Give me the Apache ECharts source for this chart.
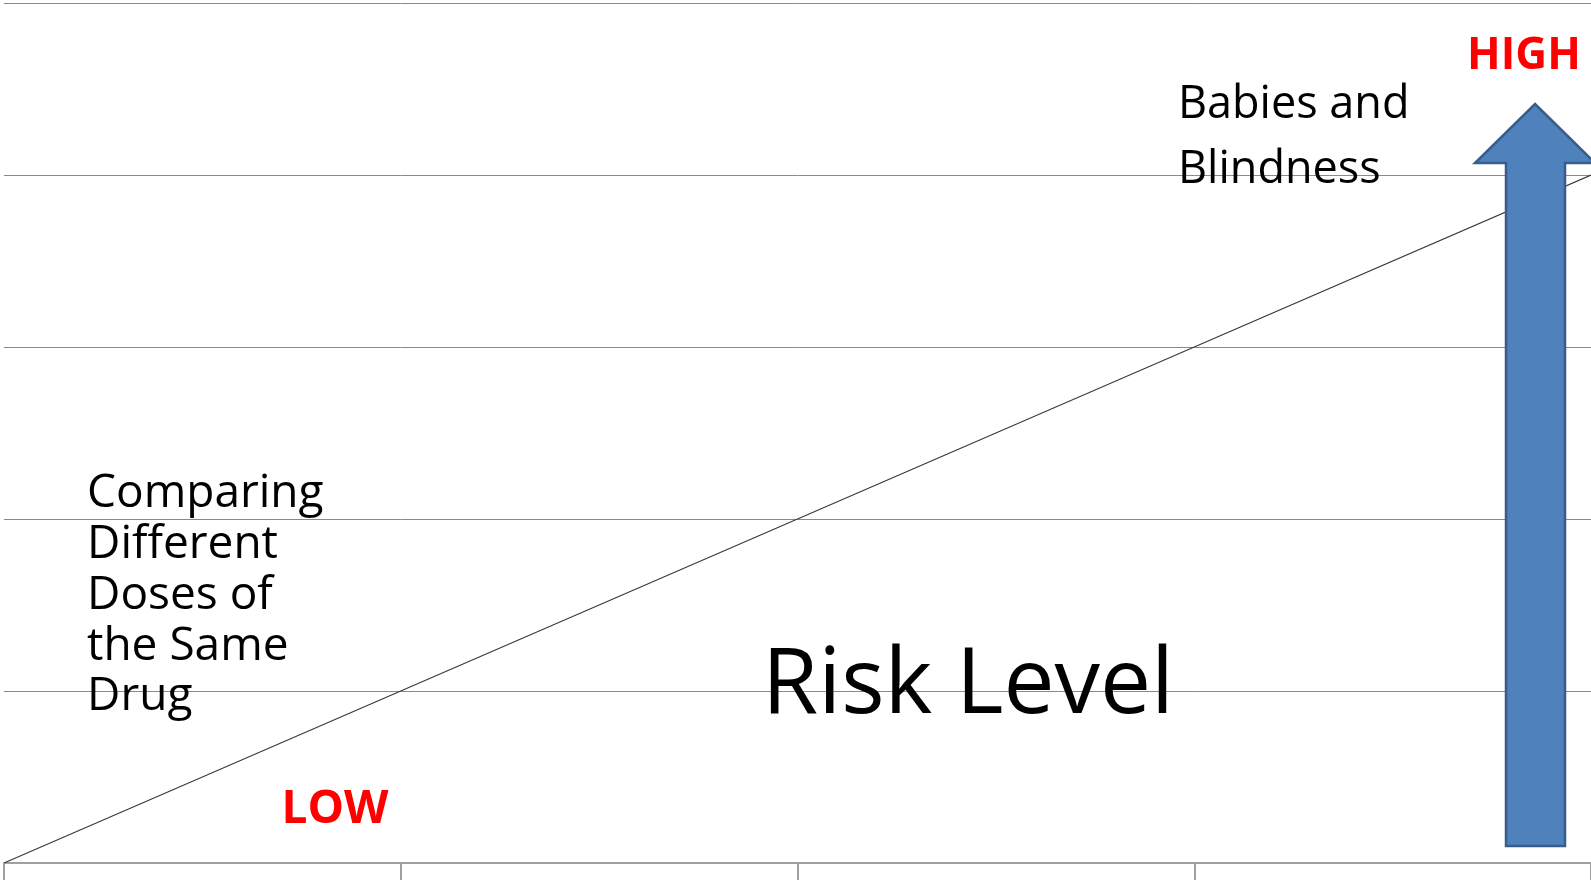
<!DOCTYPE html>
<html>
<head>
<meta charset="utf-8">
<script src="https://cdn.jsdelivr.net/npm/echarts@6/dist/echarts.min.js"></script>
<style>
  html, body { margin: 0; padding: 0; background: #ffffff; }
  #chart { width: 1591px; height: 880px; }
</style>
</head>
<body>
<div id="chart"></div>
<script>
// Steps along the horizontal axis and the rising risk line
const xSteps = [0, 1, 2, 3, 4];
const riskValues = [0, 1, 2, 3, 4];

// Vertical scale of the risk grid
const yMin = 0;
const yMax = 5;
const yStep = 1;

// Annotation texts
const lowLabel = 'LOW';
const highLabel = 'HIGH';
const titleLabel = 'Risk Level';
const lowCaseLines = ['Comparing', 'Different', 'Doses of', 'the Same', 'Drug'];
const highCaseLines = ['Babies and', 'Blindness'];

const FONT = '"Open Sans", Lato, sans-serif';

const chart = echarts.init(document.getElementById('chart'), null, { renderer: 'canvas' });

const option = {
  backgroundColor: '#ffffff',
  animation: false,
  grid: { left: 4, right: 0, top: 3, bottom: 17, containLabel: false },
  xAxis: {
    type: 'value',
    min: xSteps[0],
    max: xSteps[xSteps.length - 1],
    interval: 1,
    axisLine: { show: true, lineStyle: { color: '#a0a0a0', width: 2 } },
    axisTick: { show: true, length: 18, lineStyle: { color: '#a0a0a0', width: 2 } },
    axisLabel: { show: false },
    splitLine: { show: false }
  },
  yAxis: {
    type: 'value',
    min: yMin,
    max: yMax,
    interval: yStep,
    axisLine: { show: false },
    axisTick: { show: false },
    axisLabel: { show: false },
    splitLine: { show: true, lineStyle: { color: '#8a8a8a', width: 1 } }
  },
  series: [{
    type: 'line',
    data: xSteps.map((x, i) => [x, riskValues[i]]),
    symbol: 'none',
    lineStyle: { color: '#3a3a3a', width: 1.2 },
    z: 2
  }],
  graphic: [
    {
      // upward arrow marking increasing risk
      type: 'polygon',
      z: 100,
      shape: {
        points: [
          [1535, 104], [1595, 163], [1565, 163], [1565, 846],
          [1506, 846], [1506, 163], [1475, 163]
        ]
      },
      style: { fill: '#4f81bd', stroke: '#385d8a', lineWidth: 2.5 }
    },
    {
      type: 'text', z: 101,
      x: 1524, y: 56,
      style: {
        text: highLabel, fill: '#ff0000', font: 'bold 44px ' + FONT,
        textAlign: 'center', textVerticalAlign: 'middle'
      }
    },
    {
      type: 'text', z: 101,
      x: 335, y: 810,
      style: {
        text: lowLabel, fill: '#ff0000', font: 'bold 46px ' + FONT,
        textAlign: 'center', textVerticalAlign: 'middle'
      }
    },
    {
      type: 'text', z: 101,
      x: 762, y: 687,
      style: {
        text: titleLabel, fill: '#000000', font: '91px ' + FONT,
        textAlign: 'left', textVerticalAlign: 'middle'
      }
    },
    {
      type: 'text', z: 101,
      x: 87, y: 469,
      style: {
        text: lowCaseLines.join('\n'), fill: '#000000', font: '46px ' + FONT,
        lineHeight: 50.7, textAlign: 'left', textVerticalAlign: 'top'
      }
    },
    {
      type: 'text', z: 101,
      x: 1178, y: 73,
      style: {
        text: highCaseLines.join('\n'), fill: '#000000', font: '45px ' + FONT,
        lineHeight: 65, textAlign: 'left', textVerticalAlign: 'top'
      }
    }
  ]
};

chart.setOption(option);
</script>
</body>
</html>
